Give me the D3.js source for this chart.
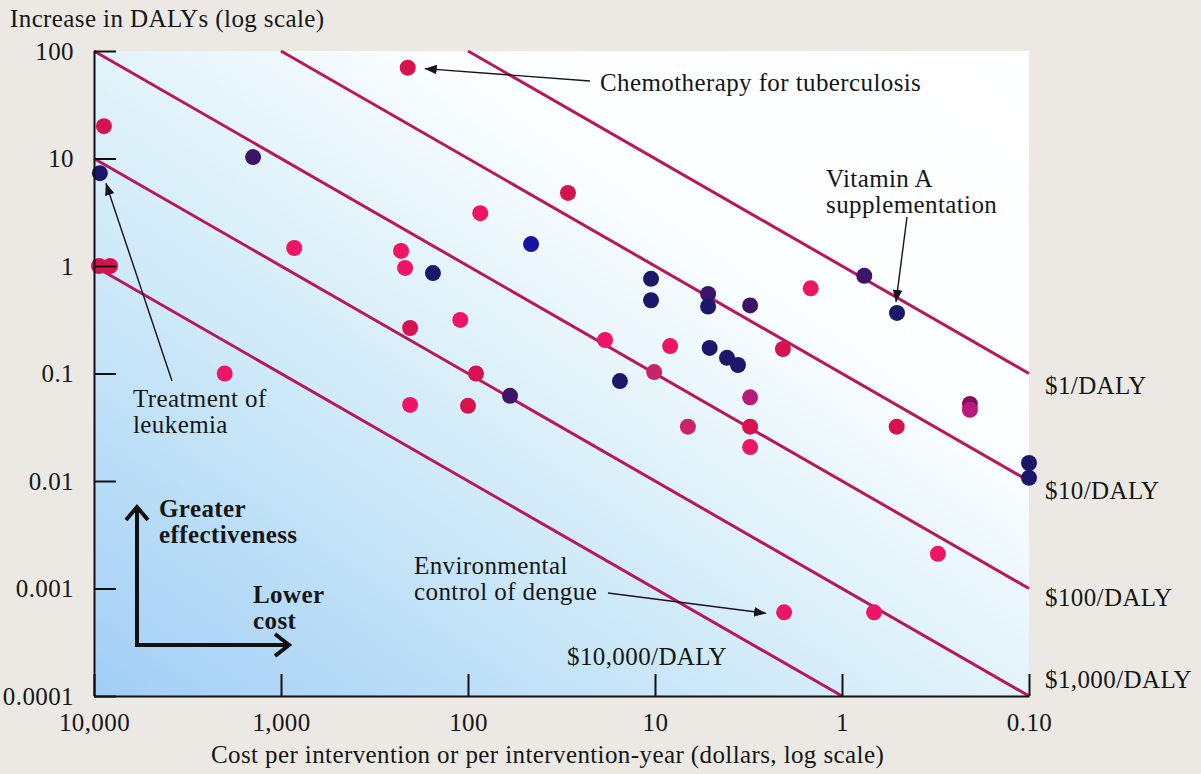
<!DOCTYPE html>
<html lang="en">
<head>
<meta charset="UTF-8">
<title>Cost-effectiveness of health interventions</title>
<script src="https://d3js.org/d3.v7.min.js"></script>
<style>
  body { margin: 0; background: #ece9e4; }
  svg { display: block; font-family: 'Liberation Serif', serif; }
  .tick text, .label { fill: #161616; font-size: 25px; letter-spacing: 0.4px; }
  .axis path, .axis line { stroke: #111; stroke-width: 2; }
  .bold { font-weight: bold; }
</style>
</head>
<body>
<div id="chart"></div>
<script>
// interventions: cost per intervention (dollars) and increase in DALYs
const costs = [210, 8850, 9300, 1410, 9400, 8200, 2000, 850, 228, 217,
  154, 204, 204, 110, 90.6, 100, 86, 59.6, 46, 29.2,
  18.5, 15.4, 10.5, 10.5, 10.1, 8.3, 6.67, 5.2, 5.2, 5.1,
  4.12, 3.6, 3.1, 3.1, 3.1, 3.1, 2.07, 2.04, 1.47, 0.76,
  0.508, 0.674, 0.51, 0.307, 0.207, 0.207, 0.1, 0.1];
const dalys = [70, 20, 7.3, 10.3, 1, 1, 0.1, 1.47, 1.38, 0.96,
  0.86, 0.265, 0.051, 0.315, 0.1, 0.05, 3.1, 0.062, 1.6, 4.78,
  0.205, 0.085, 0.76, 0.48, 0.103, 0.18, 0.032, 0.55, 0.42, 0.173,
  0.14, 0.12, 0.43, 0.06, 0.032, 0.0207, 0.169, 0.0006, 0.62, 0.81,
  0.366, 0.0006, 0.032, 0.0021, 0.052, 0.046, 0.0147, 0.0107];
// colour group of each dot (0 = pink ... 7 = blue)
const tones = [1, 1, 6, 5, 1, 1, 0, 0, 0, 0,
  6, 1, 0, 0, 1, 1, 0, 5, 7, 1,
  0, 6, 6, 6, 2, 0, 2, 5, 6, 6,
  6, 6, 5, 3, 1, 0, 1, 0, 0, 5,
  6, 0, 1, 0, 4, 3, 6, 6];

const xTickValues = [10000, 1000, 100, 10, 1, 0.1];
const xTickLabels = ['10,000', '1,000', '100', '10', '1', '0.10'];
const yTickValues = [100, 10, 1, 0.1, 0.01, 0.001, 0.0001];
const yTickLabels = ['100', '10', '1', '0.1', '0.01', '0.001', '0.0001'];
const dalyRates = [1, 10, 100, 1000, 10000];
const rateLabels = ['$1/DALY', '$10/DALY', '$100/DALY', '$1,000/DALY', '$10,000/DALY'];

const palette = ['#ee1566', '#d6124f', '#c8246a', '#b81a7c', '#84105a', '#3d1466', '#1b176b', '#1613a2'];

const W = 1201, H = 774;
const x = d3.scaleLog().domain([10000, 0.1]).range([94, 1029]);
const y = d3.scaleLog().domain([0.0001, 100]).range([696, 51]);
const color = d3.scaleOrdinal().domain(d3.range(palette.length)).range(palette);

const points = costs.map((c, i) => ({ cost: c, daly: dalys[i], tone: tones[i] }));

const svg = d3.select('#chart').append('svg')
  .attr('width', W)
  .attr('height', H);

const defs = svg.append('defs');
const grad = defs.append('linearGradient')
  .attr('id', 'bg')
  .attr('x1', 0).attr('y1', 1).attr('x2', 1).attr('y2', 0);
[[0, '#a2cef5'], [0.3, '#c8e6f8'], [0.5, '#e2f3fa'], [0.68, '#fbfeff'], [1, '#ffffff']]
  .forEach(s => grad.append('stop').attr('offset', s[0]).attr('stop-color', s[1]));

defs.append('marker')
  .attr('id', 'head')
  .attr('viewBox', '0 0 10 8')
  .attr('refX', 10).attr('refY', 4)
  .attr('markerWidth', 12).attr('markerHeight', 10)
  .attr('markerUnits', 'userSpaceOnUse')
  .attr('orient', 'auto')
  .append('path')
  .attr('d', 'M0,0L10,4L0,8z')
  .attr('fill', '#1a1020');

// plot background
svg.append('rect')
  .attr('x', x(10000)).attr('y', y(100))
  .attr('width', x(0.1) - x(10000))
  .attr('height', y(0.0001) - y(100))
  .attr('fill', 'url(#bg)');

// iso cost-per-DALY lines
const rateLines = dalyRates.map(r => {
  const cHi = Math.min(10000, r * 100);
  const cLo = Math.max(0.1, r * 0.0001);
  return { r, c0: cHi, d0: cHi / r, c1: cLo, d1: cLo / r };
});

svg.append('g').selectAll('line')
  .data(rateLines)
  .join('line')
  .attr('x1', d => x(d.c0)).attr('y1', d => y(d.d0))
  .attr('x2', d => x(d.c1)).attr('y2', d => y(d.d1))
  .attr('stroke', '#b8165e')
  .attr('stroke-width', 3);

// label offsets from the line ends
const labelShift = [[16, 20], [16, 18], [16, 17], [16, -8], [-275, -31]];
svg.append('g').selectAll('text')
  .data(rateLines)
  .join('text')
  .attr('class', 'label')
  .attr('x', (d, i) => x(d.c1) + labelShift[i][0])
  .attr('y', (d, i) => y(d.d1) + labelShift[i][1])
  .text((d, i) => rateLabels[i]);

// dots
svg.append('g').selectAll('circle')
  .data(points)
  .join('circle')
  .attr('cx', d => x(d.cost))
  .attr('cy', d => y(d.daly))
  .attr('r', 8)
  .attr('fill', d => color(d.tone));

// axes
svg.append('g')
  .attr('class', 'axis')
  .attr('transform', 'translate(0,' + y(0.0001) + ')')
  .call(d3.axisBottom(x).tickValues(xTickValues)
    .tickFormat((d, i) => xTickLabels[i])
    .tickSizeInner(-22).tickSizeOuter(0).tickPadding(18))
  .call(g => g.selectAll('.tick text').attr('y', 17).attr('dy', '0.71em'));

svg.append('g')
  .attr('class', 'axis')
  .attr('transform', 'translate(' + x(10000) + ',0)')
  .call(d3.axisLeft(y).tickValues(yTickValues)
    .tickFormat((d, i) => yTickLabels[i])
    .tickSizeInner(-22).tickSizeOuter(0).tickPadding(20));

svg.selectAll('.axis').attr('font-family', null).attr('font-size', null);

svg.append('text')
  .attr('class', 'label')
  .attr('x', 10).attr('y', 27)
  .text('Increase in DALYs (log scale)');

svg.append('text')
  .attr('class', 'label')
  .attr('x', 211).attr('y', 763)
  .text('Cost per intervention or per intervention-year (dollars, log scale)');

// annotations
const note = (lines, tx, ty, idx, from, to, bold) => {
  lines.forEach((t, k) => {
    svg.append('text')
      .attr('class', bold ? 'label bold' : 'label')
      .attr('x', tx).attr('y', ty + k * 26)
      .text(t);
  });
  if (idx == null) return;
  const p = points[idx];
  svg.append('line')
    .attr('x1', from[0]).attr('y1', from[1])
    .attr('x2', x(p.cost) + to[0]).attr('y2', y(p.daly) + to[1])
    .attr('stroke', '#1a1020')
    .attr('stroke-width', 1.4)
    .attr('marker-end', 'url(#head)');
};

note(['Chemotherapy for tuberculosis'], 600, 91, 0, [590, 81], [17, 1]);
note(['Vitamin A', 'supplementation'], 826, 187, 40, [907, 217], [-1, -11]);
note(['Treatment of', 'leukemia'], 133, 407, 2, [172, 381], [6, 10]);
note(['Environmental', 'control of dengue'], 414, 574, 37, [608, 593], [-18, 1]);
note(['Greater', 'effectiveness'], 159, 517, null, null, null, true);
note(['Lower', 'cost'], 253, 603, null, null, null, true);

// direction arrows
svg.append('path')
  .attr('d', 'M137,507V645H289M126,520L137,507L148,520M275,634L289,645L275,656')
  .attr('fill', 'none')
  .attr('stroke', '#111')
  .attr('stroke-width', 4);
</script>
</body>
</html>
